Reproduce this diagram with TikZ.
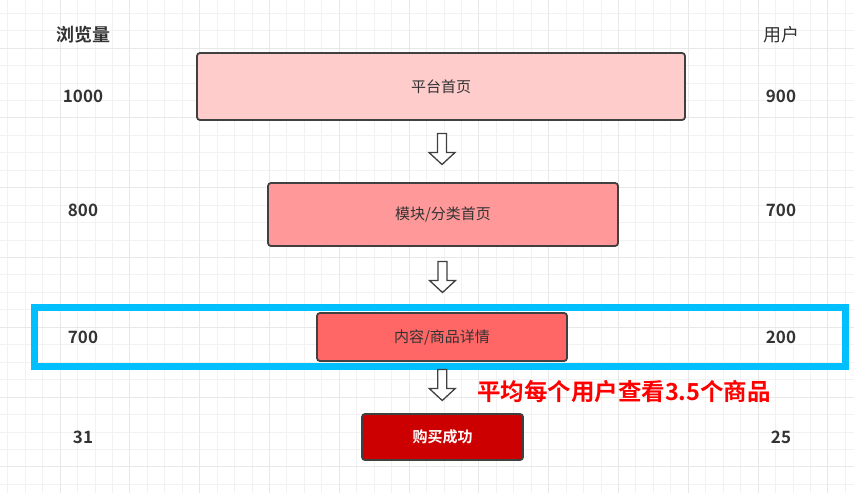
\documentclass[tikz,border=0pt]{standalone}
\usepackage{fontspec}
\setmainfont{Noto Sans CJK SC}[BoldFont={Noto Sans CJK SC Bold}]
\usetikzlibrary{calc}
\definecolor{edge}{HTML}{404040}
\definecolor{ink}{HTML}{333333}
\definecolor{pinkA}{HTML}{FFCCCC}
\definecolor{pinkB}{HTML}{FF9999}
\definecolor{pinkC}{HTML}{FF6666}
\definecolor{buyred}{HTML}{CC0000}
\definecolor{sky}{HTML}{00BFFF}
\tikzset{
  stage/.style={draw=edge, line width=1.8pt, rounded corners=3pt, text=ink,
    font=\fontsize{15}{18}\selectfont},
  num/.style={text=ink, font=\bfseries\fontsize{17}{20}\selectfont},
  hdr/.style={text=ink, font=\fontsize{18}{21}\selectfont},
  flow/.style={draw=edge, fill=white, line width=1.3pt, line join=miter},
  gridminor/.style={draw=black!5, line width=.8pt},
  gridmajor/.style={draw=black!9, line width=1pt}
}
\begin{document}
\begin{tikzpicture}[x=1pt,y=-1pt]
  \useasboundingbox (0,0) rectangle (854,493);
  \clip (0,0) rectangle (854,493);
  \fill[white] (0,0) rectangle (854,493);
  % background grid
  \foreach \i in {-4,...,46}
    \draw[gridminor] ({60+17.45*\i},0) -- ({60+17.45*\i},493);
  \foreach \j in {-3,...,26}
    \draw[gridminor] (0,{48+17.45*\j}) -- (854,{48+17.45*\j});
  \foreach \i in {-1,...,11}
    \draw[gridmajor] ({60+69.8*\i},0) -- ({60+69.8*\i},493);
  \foreach \j in {-1,...,6}
    \draw[gridmajor] (0,{48+69.8*\j}) -- (854,{48+69.8*\j});

  % column heads
  \node[hdr, font=\bfseries\fontsize{18}{21}\selectfont] (pv) at (83,35) {浏览量};
  \node[hdr] (uv) at (781,35) {用户};

  % funnel stages
  \node[stage, fill=pinkA, minimum width=488pt, minimum height=67pt] (home) at (441,86.5) {平台首页};
  \node[stage, fill=pinkB, minimum width=350pt, minimum height=63pt] (cat) at (443,214.5) {模块/分类首页};
  \node[stage, fill=pinkC, minimum width=250pt, minimum height=48pt] (item) at (442,337) {内容/商品详情};
  \node[stage, fill=buyred, text=white, font=\bfseries\fontsize{15}{18}\selectfont,
    minimum width=161pt, minimum height=46pt] (buy) at (442.5,437) {购买成功};

  % numbers
  \node[num] (pv1) at (83,96) {1000};
  \node[num] (pv2) at (83,210) {800};
  \node[num] (pv3) at (83,337) {700};
  \node[num] (pv4) at (83,437) {31};
  \node[num] (uv1) at (781,96) {900};
  \node[num] (uv2) at (781,210) {700};
  \node[num] (uv3) at (781,337) {200};
  \node[num] (uv4) at (781,437) {25};

  % highlight
  \draw[sky, line width=7pt] (34,307) rectangle (845,366);

  % hollow arrows
  \foreach \a/\b in {home/cat, cat/item, item/buy}
    \draw[flow] ($(\a.south)!.5!(\b.north)$) ++(-4.5,-18) -- ++(0,19) -- ++(-8.5,0)
      -- ++(13,12) -- ++(13,-12) -- ++(-8.5,0) -- ++(0,-19) -- cycle;

  \node[text=red, font=\bfseries\fontsize{23.5}{27}\selectfont] (note) at (624,392)
    {平均每个用户查看3.5个商品};
\end{tikzpicture}
\end{document}
